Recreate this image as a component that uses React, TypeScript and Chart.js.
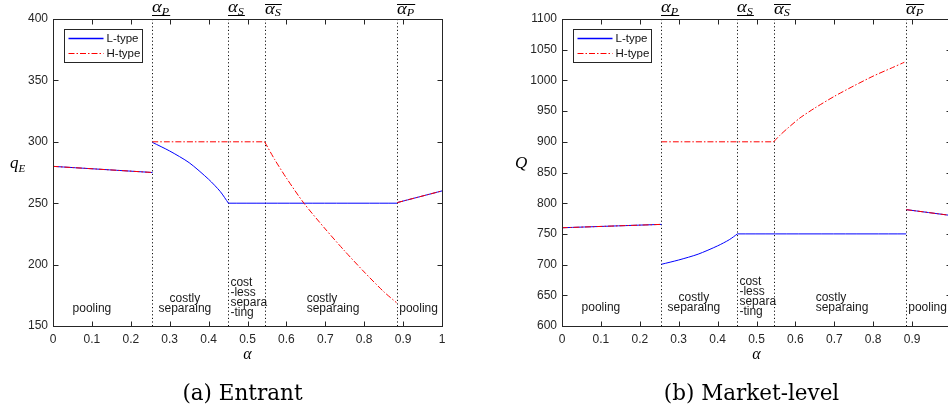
import React, { useEffect, useRef } from "react";
import { Chart, registerables } from "chart.js";

Chart.register(...registerables);

const SANS = "'Liberation Sans', Arial, Helvetica, sans-serif";
const SERIF = "'DejaVu Serif', 'Liberation Serif', serif";
const MATH = "'Liberation Serif', 'DejaVu Serif', serif";
const AXIS_COLOR = "#262626";
const L_COLOR = "#0000ff";
const H_COLOR = "#ff0000";
const H_DASH = [6, 2, 1.5, 2];

// Regime thresholds on alpha
const ALPHA_THRESHOLDS = [0.2557, 0.451, 0.544, 0.885];
const THRESHOLD_SUBS = ["P", "S", "S", "P"];
const THRESHOLD_BARS = ["under", "under", "over", "over"];

// Regime text labels
const REGION_LINES = [
  ["pooling"],
  ["costly", "separaing"],
  ["cost", "-less", "separa", "-ting"],
  ["costly", "separaing"],
  ["pooling"],
];
const REGION_X = [0.1, 0.339, 0.456, 0.652, 0.89];
const REGION_ALIGN = ["center", "center", "left", "left", "left"];

const LEGEND_LABELS = ["L-type", "H-type"];

// x axis
const X_MIN = 0;
const X_MAX = 1;
const X_STEP = 0.1;

// (a) Entrant: q_E
const E_Y_MIN = 150;
const E_Y_MAX = 400;
const E_Y_STEP = 50;
const E_POOL_LOW_X = [0, 0.2557];
const E_POOL_LOW_Y = [280, 275];
const E_L_SEP_X = [0.2557, 0.3, 0.35, 0.4, 0.43, 0.451];
const E_L_SEP_Y = [299.5, 292.5, 283, 269.5, 259.5, 250];
const E_L_FLAT_X = [0.451, 0.885];
const E_L_FLAT_Y = [250, 250];
const E_H_FLAT_X = [0.2557, 0.544];
const E_H_FLAT_Y = [300, 300];
const E_H_SEP_X = [0.544, 0.57, 0.6, 0.645, 0.7, 0.75, 0.8, 0.85, 0.883];
const E_H_SEP_Y = [300, 285.5, 270.5, 250, 229, 211, 194, 178, 169];
const E_POOL_HIGH_X = [0.885, 1];
const E_POOL_HIGH_Y = [250.5, 260];
const E_REGION_Y = [164.4, 164.4, 160.8, 164.4, 164.4];

// (b) Market-level: Q
const M_Y_MIN = 600;
const M_Y_MAX = 1100;
const M_Y_STEP = 50;
const M_POOL_LOW_X = [0, 0.2557];
const M_POOL_LOW_Y = [760, 765.5];
const M_L_SEP_X = [0.2557, 0.3, 0.35, 0.4, 0.43, 0.451];
const M_L_SEP_Y = [700.5, 707.5, 717, 730.5, 740.5, 750];
const M_L_FLAT_X = [0.451, 0.885];
const M_L_FLAT_Y = [750, 750];
const M_H_FLAT_X = [0.2557, 0.544];
const M_H_FLAT_Y = [900, 900];
const M_H_SEP_X = [0.544, 0.56, 0.58, 0.612, 0.65, 0.7, 0.75, 0.8, 0.85, 0.88];
const M_H_SEP_Y = [900, 910.5, 922, 939, 955, 974, 991, 1007, 1021, 1029.5];
const M_POOL_HIGH_X = [0.885, 1];
const M_POOL_HIGH_Y = [789.5, 780];
const M_REGION_Y = [630.5, 630.5, 623.3, 630.5, 630.5];

function pts(xs: number[], ys: number[]) {
  return xs.map((x, i) => ({ x, y: ys[i] }));
}

function lineDs(label: string, xs: number[], ys: number[], kind: "L" | "H") {
  return {
    label,
    data: pts(xs, ys),
    borderColor: kind === "L" ? L_COLOR : H_COLOR,
    backgroundColor: kind === "L" ? L_COLOR : H_COLOR,
    borderWidth: 1,
    borderDash: kind === "H" ? H_DASH : [],
    pointRadius: 0,
    fill: false,
    tension: 0.25,
    order: kind === "L" ? 2 : 1,
  };
}

const PANELS = [
  {
    key: "a",
    left: 0,
    caption: "(a) Entrant",
    yMin: E_Y_MIN,
    yMax: E_Y_MAX,
    yStep: E_Y_STEP,
    yLabel: "q",
    yLabelSub: "E",
    yLabelX: 10,
    yLabelFont: 17,
    regionY: E_REGION_Y,
    datasets: [
      lineDs("L-type", E_POOL_LOW_X, E_POOL_LOW_Y, "L"),
      lineDs("L-type", E_L_SEP_X, E_L_SEP_Y, "L"),
      lineDs("L-type", E_L_FLAT_X, E_L_FLAT_Y, "L"),
      lineDs("L-type", E_POOL_HIGH_X, E_POOL_HIGH_Y, "L"),
      lineDs("H-type", E_POOL_LOW_X, E_POOL_LOW_Y, "H"),
      lineDs("H-type", E_H_FLAT_X, E_H_FLAT_Y, "H"),
      lineDs("H-type", E_H_SEP_X, E_H_SEP_Y, "H"),
      lineDs("H-type", E_POOL_HIGH_X, E_POOL_HIGH_Y, "H"),
    ],
  },
  {
    key: "b",
    left: 509,
    caption: "(b) Market-level",
    yMin: M_Y_MIN,
    yMax: M_Y_MAX,
    yStep: M_Y_STEP,
    yLabel: "Q",
    yLabelSub: "",
    yLabelX: 6,
    yLabelFont: 17,
    regionY: M_REGION_Y,
    datasets: [
      lineDs("L-type", M_POOL_LOW_X, M_POOL_LOW_Y, "L"),
      lineDs("L-type", M_L_SEP_X, M_L_SEP_Y, "L"),
      lineDs("L-type", M_L_FLAT_X, M_L_FLAT_Y, "L"),
      lineDs("L-type", M_POOL_HIGH_X, M_POOL_HIGH_Y, "L"),
      lineDs("H-type", M_POOL_LOW_X, M_POOL_LOW_Y, "H"),
      lineDs("H-type", M_H_FLAT_X, M_H_FLAT_Y, "H"),
      lineDs("H-type", M_H_SEP_X, M_H_SEP_Y, "H"),
      lineDs("H-type", M_POOL_HIGH_X, M_POOL_HIGH_Y, "H"),
    ],
  },
];

function drawScaled(ctx: CanvasRenderingContext2D, text: string, x: number, y: number, sx: number, align: CanvasTextAlign) {
  ctx.save();
  ctx.translate(x, y);
  ctx.scale(sx, 1);
  ctx.textAlign = align;
  ctx.fillText(text, 0, 0);
  ctx.restore();
}

function makeDecor(p: any) {
  return {
    id: "decor",
    beforeDatasetsDraw(chart: any) {
      const { ctx, chartArea: a, scales } = chart;
      const x = scales.x;
      ctx.save();
      ctx.strokeStyle = "#111";
      ctx.lineWidth = 1;
      ctx.setLineDash([1.2, 2.4]);
      for (const t of ALPHA_THRESHOLDS) {
        const px = Math.round(x.getPixelForValue(t)) + 0.5;
        ctx.beginPath();
        ctx.moveTo(px, a.top);
        ctx.lineTo(px, a.bottom);
        ctx.stroke();
      }
      ctx.restore();
    },
    afterDatasetsDraw(chart: any) {
      const { ctx, chartArea: a, scales } = chart;
      const x = scales.x;
      const y = scales.y;
      ctx.save();
      // box
      const L = Math.round(a.left) + 0.5;
      const R = Math.round(a.right) + 0.5;
      const T = Math.round(a.top) + 0.5;
      const B = Math.round(a.bottom) + 0.5;
      ctx.strokeStyle = AXIS_COLOR;
      ctx.lineWidth = 1;
      ctx.setLineDash([]);
      ctx.strokeRect(L, T, R - L, B - T);
      // inward ticks
      ctx.beginPath();
      for (const tk of x.ticks) {
        const px = Math.round(x.getPixelForValue(tk.value)) + 0.5;
        ctx.moveTo(px, B);
        ctx.lineTo(px, B - 5);
        ctx.moveTo(px, T);
        ctx.lineTo(px, T + 5);
      }
      for (const tk of y.ticks) {
        const py = Math.round(y.getPixelForValue(tk.value)) + 0.5;
        ctx.moveTo(L, py);
        ctx.lineTo(L + 5, py);
        ctx.moveTo(R, py);
        ctx.lineTo(R - 5, py);
      }
      ctx.stroke();

      // region labels
      ctx.fillStyle = "#1a1a1a";
      ctx.font = `12px ${SANS}`;
      ctx.textBaseline = "middle";
      REGION_LINES.forEach((lines, i) => {
        const px = x.getPixelForValue(REGION_X[i]);
        const pyB = y.getPixelForValue(p.regionY[i]);
        ctx.textAlign = REGION_ALIGN[i] as CanvasTextAlign;
        lines.forEach((ln, j) => {
          ctx.fillText(ln, px, pyB - (lines.length - 1 - j) * 10);
        });
      });

      // legend
      const lx = Math.round(a.left + 11) + 0.5;
      const ly = Math.round(a.top + 10) + 0.5;
      const lw = 78;
      const lh = 33;
      ctx.fillStyle = "#fff";
      ctx.fillRect(lx, ly, lw, lh);
      ctx.strokeStyle = AXIS_COLOR;
      ctx.lineWidth = 1;
      ctx.strokeRect(lx, ly, lw, lh);
      const rows = [ly + 9, ly + 24];
      ctx.lineWidth = 1.5;
      ctx.strokeStyle = L_COLOR;
      ctx.beginPath();
      ctx.moveTo(lx + 4, rows[0]);
      ctx.lineTo(lx + 39, rows[0]);
      ctx.stroke();
      ctx.lineWidth = 1;
      ctx.strokeStyle = H_COLOR;
      ctx.setLineDash(H_DASH);
      ctx.beginPath();
      ctx.moveTo(lx + 4, rows[1]);
      ctx.lineTo(lx + 39, rows[1]);
      ctx.stroke();
      ctx.setLineDash([]);
      ctx.fillStyle = "#111";
      ctx.font = `11.5px ${SANS}`;
      ctx.textAlign = "left";
      ctx.textBaseline = "middle";
      LEGEND_LABELS.forEach((lab, i) => ctx.fillText(lab, lx + 42, rows[i]));

      // top alpha threshold labels
      ctx.fillStyle = "#000";
      ctx.strokeStyle = "#000";
      ctx.textBaseline = "alphabetic";
      const sx = 1.1;
      ALPHA_THRESHOLDS.forEach((t, i) => {
        const x0 = Math.round(x.getPixelForValue(t));
        const under = THRESHOLD_BARS[i] === "under";
        const base = under ? 12 : 13.5;
        ctx.font = `italic 17px ${MATH}`;
        const aw = ctx.measureText("α").width * sx;
        drawScaled(ctx, "α", x0, base, sx, "left");
        ctx.font = `italic 11px ${MATH}`;
        const sw = ctx.measureText(THRESHOLD_SUBS[i]).width * sx;
        drawScaled(ctx, THRESHOLD_SUBS[i], x0 + aw, base + 2.5, sx, "left");
        const by = under ? 15.5 : 4.5;
        ctx.lineWidth = 1;
        ctx.beginPath();
        ctx.moveTo(x0, by);
        ctx.lineTo(x0 + aw + sw + 1, by);
        ctx.stroke();
      });

      // x axis label
      ctx.font = `italic 16px ${MATH}`;
      ctx.textAlign = "center";
      ctx.fillText("α", (a.left + a.right) / 2, 359);

      // y axis label
      ctx.font = `italic ${p.yLabelFont}px ${MATH}`;
      ctx.textAlign = "left";
      ctx.fillText(p.yLabel, p.yLabelX, 167.5);
      if (p.yLabelSub) {
        const qw = ctx.measureText(p.yLabel).width;
        ctx.font = `italic 11px ${MATH}`;
        ctx.fillText(p.yLabelSub, p.yLabelX + qw, 171.5);
      }

      // caption
      ctx.font = `21.5px ${SERIF}`;
      ctx.textAlign = "center";
      ctx.fillStyle = "#000";
      ctx.fillText(p.caption, (a.left + a.right) / 2 - 5, 400);
      ctx.restore();
    },
  };
}

function makeConfig(p: any): any {
  return {
    type: "line",
    data: { datasets: p.datasets },
    options: {
      responsive: false,
      animation: false,
      devicePixelRatio: 1,
      layout: { padding: { top: 19, right: 32, left: 0, bottom: 0 } },
      plugins: { legend: { display: false }, tooltip: { enabled: false } },
      scales: {
        x: {
          type: "linear",
          min: X_MIN,
          max: X_MAX,
          afterFit: (s: any) => {
            s.height = 82;
          },
          grid: { display: false, drawTicks: false },
          border: { display: false },
          ticks: {
            stepSize: X_STEP,
            autoSkip: false,
            maxRotation: 0,
            padding: 6,
            color: AXIS_COLOR,
            font: { family: SANS, size: 12 },
            callback: (v: number) => String(Math.round(v * 10) / 10),
          },
        },
        y: {
          type: "linear",
          min: p.yMin,
          max: p.yMax,
          afterFit: (s: any) => {
            s.width = 53;
          },
          grid: { display: false, drawTicks: false },
          border: { display: false },
          ticks: {
            stepSize: p.yStep,
            autoSkip: false,
            padding: 5,
            color: AXIS_COLOR,
            font: { family: SANS, size: 12 },
            callback: (v: number) => String(Math.round(v)),
          },
        },
      },
    },
    plugins: [makeDecor(p)],
  };
}

function Panel({ p }: { p: any }) {
  const ref = useRef<HTMLCanvasElement>(null);
  useEffect(() => {
    const chart = new Chart(ref.current as HTMLCanvasElement, makeConfig(p));
    return () => chart.destroy();
  }, [p]);
  return (
    <canvas
      ref={ref}
      width={474}
      height={408}
      style={{ position: "absolute", left: p.left, top: 0, width: 474, height: 408 }}
    />
  );
}

export default function App() {
  return (
    <div
      style={{
        position: "absolute",
        left: 0,
        top: 0,
        width: 948,
        height: 408,
        overflow: "hidden",
        background: "#fff",
      }}
    >
      {PANELS.map((p) => (
        <Panel key={p.key} p={p} />
      ))}
    </div>
  );
}
